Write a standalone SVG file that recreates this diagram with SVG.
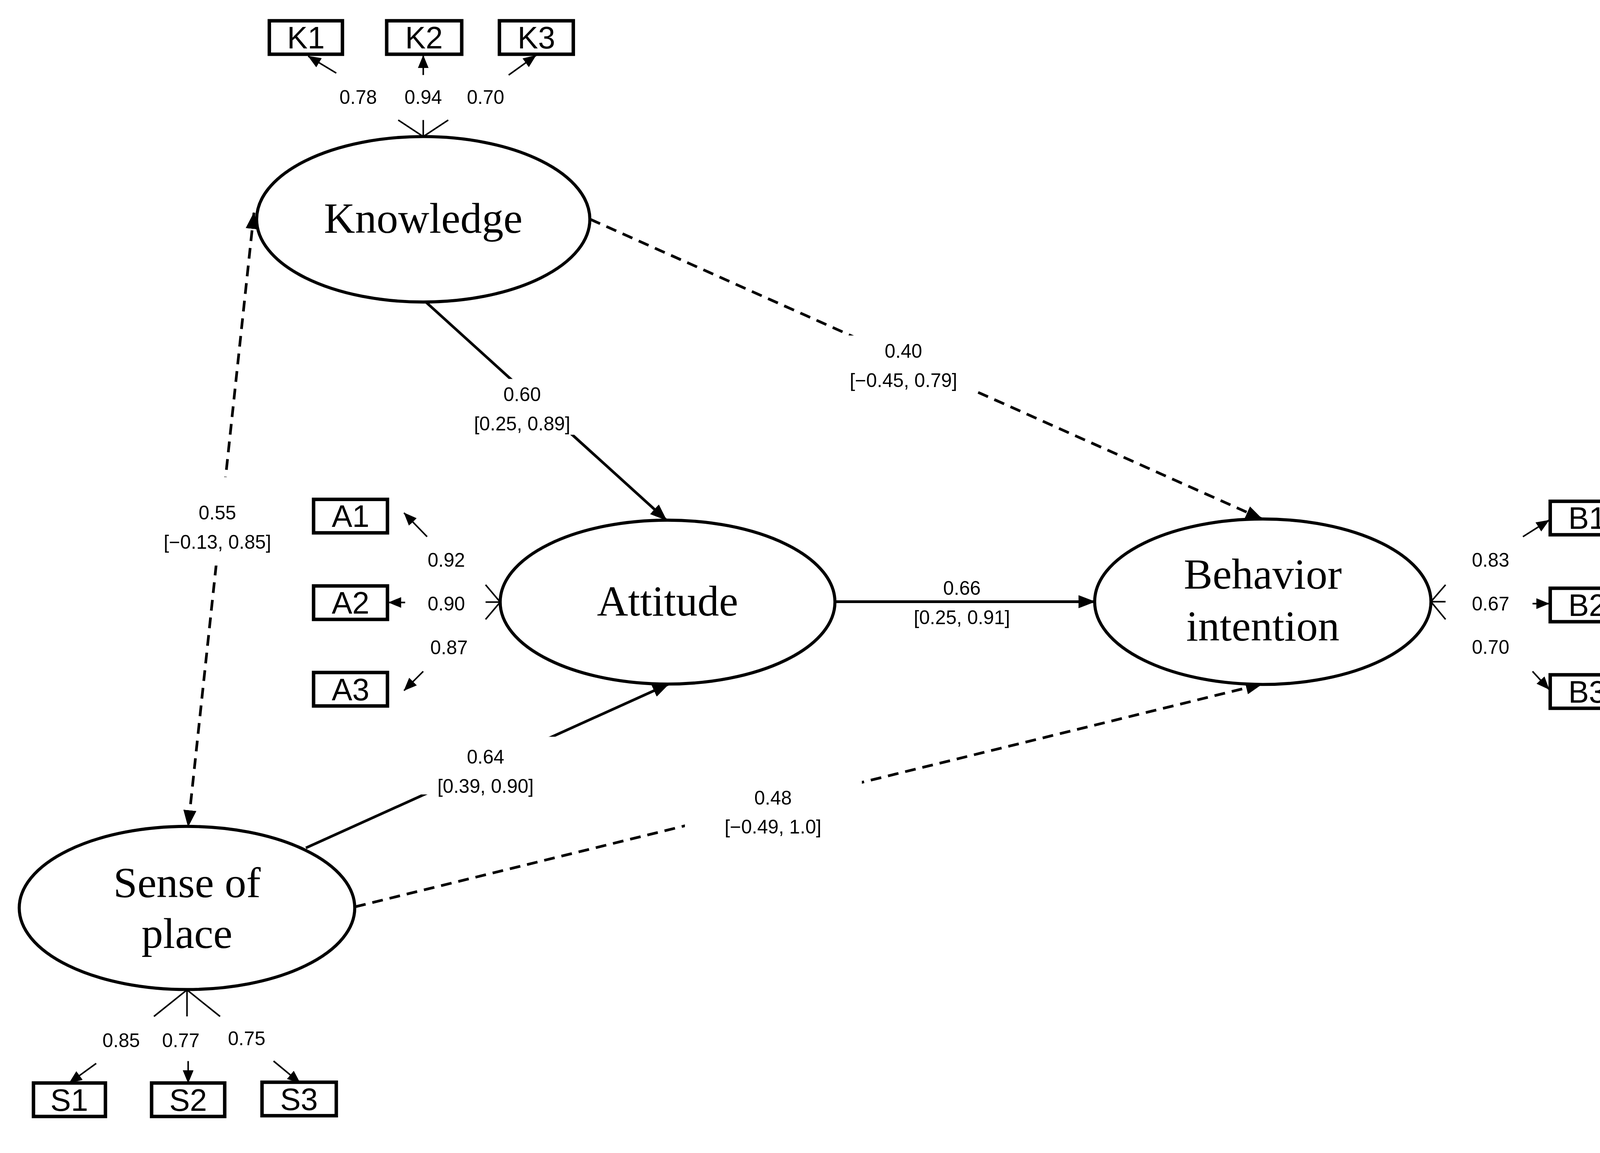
<svg xmlns="http://www.w3.org/2000/svg" width="4257" height="2952" viewBox="0 0 4257 2952">
<style>
.box{fill:#fff;stroke:#000;stroke-width:9}
.ell{fill:#fff;stroke:#000;stroke-width:8}
.bt{font-family:"Liberation Sans",Arial,sans-serif;font-size:80px;text-anchor:middle}
.et{font-family:"Liberation Serif","Times New Roman",serif;font-size:112px;text-anchor:middle}
.lb{font-family:"Liberation Sans",Arial,sans-serif;font-size:50px;text-anchor:middle}
.ln{stroke:#000;stroke-width:7;fill:none}
.ds{stroke-dasharray:28 18}
.sm{stroke:#000;stroke-width:4;fill:none}
.bg{fill:#fff}
</style>
<defs>
<marker id="ah" markerUnits="userSpaceOnUse" markerWidth="44" markerHeight="34" refX="42" refY="17" orient="auto-start-reverse"><path d="M0,0 L44,17 L0,34 z" fill="#000"/></marker>
<marker id="as" markerUnits="userSpaceOnUse" markerWidth="34" markerHeight="28" refX="33" refY="14" orient="auto"><path d="M0,0 L34,14 L0,28 z" fill="#000"/></marker>
</defs>
<g transform="scale(0.985)">
<g id="connectors">
<line class="ln" x1="1100" y1="779" x2="1732" y2="1352" marker-end="url(#ah)"/>
<line class="ln ds" x1="1534" y1="570" x2="3280" y2="1349" marker-end="url(#ah)"/>
<line class="ln" x1="2172" y1="1564" x2="2845" y2="1564" marker-end="url(#ah)"/>
<line class="ln" x1="795" y1="2204" x2="1738" y2="1778" marker-end="url(#ah)"/>
<line class="ln ds" x1="923" y1="2357" x2="3280" y2="1778" marker-end="url(#ah)"/>
<line class="ln ds" x1="660" y1="553" x2="489" y2="2148" marker-start="url(#ah)" marker-end="url(#ah)"/>
<line class="sm" x1="874" y1="190" x2="801" y2="146" marker-end="url(#as)"/>
<line class="sm" x1="1100" y1="195" x2="1100" y2="144" marker-end="url(#as)"/>
<line class="sm" x1="1322" y1="195" x2="1393" y2="144" marker-end="url(#as)"/>
<path class="sm" d="M1035,312 L1100,355 L1165,312 M1100,312 L1100,355"/>
<line class="sm" x1="1110" y1="1395" x2="1050" y2="1333" marker-end="url(#as)"/>
<line class="sm" x1="1053" y1="1566" x2="1010" y2="1566" marker-end="url(#as)"/>
<line class="sm" x1="1100" y1="1745" x2="1050" y2="1795" marker-end="url(#as)"/>
<path class="sm" d="M1262,1520 L1300,1565 L1262,1610 M1262,1565 L1300,1565"/>
<line class="sm" x1="3958" y1="1395" x2="4026" y2="1352" marker-end="url(#as)"/>
<line class="sm" x1="3983" y1="1569" x2="4026" y2="1569" marker-end="url(#as)"/>
<line class="sm" x1="3983" y1="1745" x2="4026" y2="1792" marker-end="url(#as)"/>
<path class="sm" d="M3757,1520 L3719,1564 L3757,1610 M3757,1564 L3719,1564"/>
<path class="sm" d="M400,2642 L486,2573 L572,2642 M486,2642 L486,2573"/>
<line class="sm" x1="250" y1="2764" x2="180" y2="2815" marker-end="url(#as)"/>
<line class="sm" x1="489" y1="2758" x2="489" y2="2815" marker-end="url(#as)"/>
<line class="sm" x1="711" y1="2758" x2="780" y2="2815" marker-end="url(#as)"/>
</g>
<g id="path-labels">
<rect class="bg" x="1195" y="985" width="325" height="145"/>
<text class="lb" x="1357" y="1043">0.60</text><text class="lb" x="1357" y="1119">[0.25, 0.89]</text>
<rect class="bg" x="2170" y="872" width="360" height="145"/>
<text class="lb" x="2348" y="930">0.40</text><text class="lb" x="2348" y="1006">[−0.45, 0.79]</text>
<text class="lb" x="2500" y="1546">0.66</text><text class="lb" x="2500" y="1622">[0.25, 0.91]</text>
<rect class="bg" x="1040" y="1915" width="440" height="150"/>
<text class="lb" x="1262" y="1985">0.64</text><text class="lb" x="1262" y="2061">[0.39, 0.90]</text>
<rect class="bg" x="1780" y="2030" width="460" height="150"/>
<text class="lb" x="2009" y="2091">0.48</text><text class="lb" x="2009" y="2167">[−0.49, 1.0]</text>
<rect class="bg" x="390" y="1240" width="350" height="230"/>
<text class="lb" x="565" y="1350">0.55</text><text class="lb" x="565" y="1426">[−0.13, 0.85]</text>
<text class="lb" x="931" y="270">0.78</text><text class="lb" x="1100" y="270">0.94</text><text class="lb" x="1262" y="270">0.70</text>
<text class="lb" x="1160" y="1473">0.92</text><text class="lb" x="1160" y="1587">0.90</text><text class="lb" x="1167" y="1701">0.87</text>
<text class="lb" x="3874" y="1473">0.83</text><text class="lb" x="3874" y="1587">0.67</text><text class="lb" x="3874" y="1699">0.70</text>
<text class="lb" x="315" y="2722">0.85</text><text class="lb" x="470" y="2722">0.77</text><text class="lb" x="641" y="2717">0.75</text>
</g>
<g id="knowledge"><ellipse class="ell" cx="1100" cy="570" rx="433" ry="215"/><text class="et" x="1100" y="605">Knowledge</text></g>
<g id="attitude"><ellipse class="ell" cx="1735" cy="1565" rx="435" ry="213"/><text class="et" x="1735" y="1600">Attitude</text></g>
<g id="behavior"><ellipse class="ell" cx="3282" cy="1564" rx="437" ry="215"/><text class="et" x="3282" y="1530">Behavior</text><text class="et" x="3282" y="1665">intention</text></g>
<g id="sense"><ellipse class="ell" cx="486" cy="2360" rx="436" ry="212"/><text class="et" x="486" y="2332">Sense of</text><text class="et" x="486" y="2464">place</text></g>
<g id="K1"><rect class="box" x="700" y="54" width="190" height="87"/><text class="bt" x="795" y="126">K1</text></g>
<g id="K2"><rect class="box" x="1005" y="54" width="195" height="87"/><text class="bt" x="1102" y="126">K2</text></g>
<g id="K3"><rect class="box" x="1298" y="54" width="192" height="87"/><text class="bt" x="1394" y="126">K3</text></g>
<g id="A1"><rect class="box" x="815" y="1298" width="192" height="87"/><text class="bt" x="911" y="1370">A1</text></g>
<g id="A2"><rect class="box" x="815" y="1523" width="192" height="87"/><text class="bt" x="911" y="1595">A2</text></g>
<g id="A3"><rect class="box" x="815" y="1748" width="192" height="87"/><text class="bt" x="911" y="1820">A3</text></g>
<g id="B1"><rect class="box" x="4029" y="1303" width="193" height="87"/><text class="bt" x="4125" y="1375">B1</text></g>
<g id="B2"><rect class="box" x="4029" y="1529" width="193" height="87"/><text class="bt" x="4125" y="1601">B2</text></g>
<g id="B3"><rect class="box" x="4029" y="1754" width="193" height="87"/><text class="bt" x="4125" y="1826">B3</text></g>
<g id="S1"><rect class="box" x="87" y="2815" width="187" height="87"/><text class="bt" x="180" y="2887">S1</text></g>
<g id="S2"><rect class="box" x="394" y="2815" width="190" height="87"/><text class="bt" x="489" y="2887">S2</text></g>
<g id="S3"><rect class="box" x="681" y="2813" width="193" height="87"/><text class="bt" x="777" y="2885">S3</text></g>
</g>
</svg>
